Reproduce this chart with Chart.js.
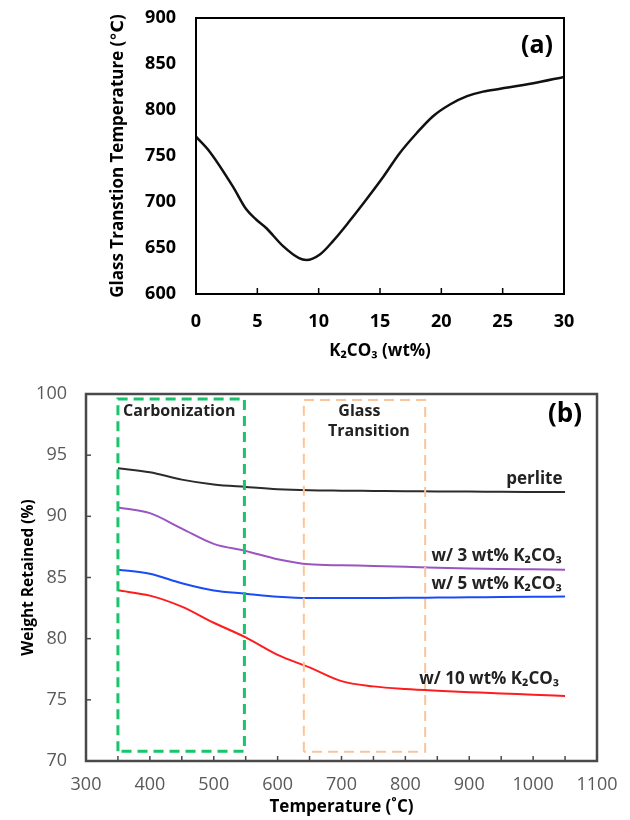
<!DOCTYPE html>
<html>
<head>
<meta charset="utf-8">
<script src="https://cdn.jsdelivr.net/npm/chart.js@4.4.0/dist/chart.umd.min.js"></script>
<style>
    html, body { margin: 0; padding: 0; background: #fff; }
    .wrap { position: absolute; left: 0; width: 630px; }
    #wrapA { top: 0; height: 370px; }
    #wrapB { top: 370px; height: 450px; }
</style>
</head>
<body>
<div class="wrap" id="wrapA"><canvas id="chartA"></canvas></div>
<div class="wrap" id="wrapB"><canvas id="chartB"></canvas></div>
<script>
// ---- (a) ガラス転移温度 vs K2CO3 ----
const k2co3Wt = [0, 1.1, 3.0, 4.1, 4.9, 5.7, 7.1, 8.4, 9.0, 10.1, 11.2, 12.5, 13.9, 15.3, 16.6, 18.0, 19.3, 20.7, 22.1, 23.4, 24.8, 27.5, 30];
const glassTemp = [771, 755, 717, 692, 681, 672, 652, 639, 637, 643, 658, 679, 703, 728, 753, 775, 793, 806, 815, 820, 823, 829, 836];

// ---- (b) 重量保持率 vs 温度 ----
const temperature = [350, 400, 450, 500, 550, 600, 650, 700, 750, 800, 850, 900, 950, 1000, 1050];
const perlite   = [93.94, 93.6, 93.0, 92.6, 92.4, 92.22, 92.13, 92.1, 92.08, 92.06, 92.03, 92.02, 92.0, 91.99, 91.98];
const wt3       = [90.73, 90.26, 89.0, 87.75, 87.17, 86.5, 86.08, 86.0, 85.95, 85.88, 85.8, 85.74, 85.7, 85.67, 85.64];
const wt5       = [85.64, 85.31, 84.53, 83.94, 83.68, 83.43, 83.32, 83.32, 83.33, 83.34, 83.36, 83.38, 83.4, 83.42, 83.44];
const wt10      = [83.95, 83.52, 82.62, 81.3, 80.1, 78.67, 77.65, 76.53, 76.1, 75.88, 75.74, 75.63, 75.52, 75.42, 75.31];

// 領域の枠 [xMin, xMax, yMin, yMax]
const carbonizationBox = [350, 548, 70.8, 99.6];
const glassBox = [641, 831, 70.75, 99.5];

// 注記
const curveLabels = ['perlite', 'w/ 3 wt% K₂CO₃', 'w/ 5 wt% K₂CO₃', 'w/ 10 wt% K₂CO₃'];
const curveLabelX = [1046, 1045, 1045, 1041];
const curveLabelY = [93.04, 86.73, 84.42, 76.67];
const regionLabels = ['Carbonization', 'Glass', 'Transition'];
const regionLabelX = [446, 728, 743];
const regionLabelY = [98.56, 98.6, 96.9];

const FONT = '"Open Sans", "DejaVu Sans", sans-serif';

// 枠線（四辺）
const framePlugin = {
    id: 'frame',
    afterDatasetsDraw(chart, args, opts) {
        const a = chart.chartArea, ctx = chart.ctx;
        ctx.save();
        ctx.strokeStyle = opts.color;
        ctx.lineWidth = opts.width;
        ctx.strokeRect(a.left, a.top, a.right - a.left, a.bottom - a.top);
        ctx.restore();
    }
};

// 内向きの目盛り
const innerTicksPlugin = {
    id: 'innerTicks',
    afterDatasetsDraw(chart, args, opts) {
        const ctx = chart.ctx, a = chart.chartArea;
        ctx.save();
        ctx.strokeStyle = opts.color;
        ctx.lineWidth = 1.5;
        (opts.axes || []).forEach(function(id) {
            const s = chart.scales[id];
            s.ticks.forEach(function(t) {
                const p = s.getPixelForValue(t.value);
                ctx.beginPath();
                if (s.isHorizontal()) {
                    ctx.moveTo(p, a.bottom);
                    ctx.lineTo(p, a.bottom - opts.length);
                } else {
                    ctx.moveTo(a.left, p);
                    ctx.lineTo(a.left + opts.length, p);
                }
                ctx.stroke();
            });
        });
        ctx.restore();
    }
};

// テキスト注記
const textPlugin = {
    id: 'texts',
    afterDatasetsDraw(chart, args, opts) {
        const ctx = chart.ctx;
        const xs = chart.scales.x, ys = chart.scales.y;
        ctx.save();
        ctx.textBaseline = 'middle';
        (opts.items || []).forEach(function(it) {
            ctx.font = it.font;
            ctx.fillStyle = it.color;
            ctx.textAlign = it.align;
            ctx.fillText(it.text, xs.getPixelForValue(it.x), ys.getPixelForValue(it.y));
        });
        ctx.restore();
    }
};

// 軸の大きさを固定
function fixX(h) {
    return function(s) { s.height = h; s.paddingLeft = 0; s.paddingRight = 0; };
}
function fixY(w) {
    return function(s) { s.width = w; s.paddingTop = 0; s.paddingBottom = 0; };
}

// ---- チャート (a) ----
new Chart(document.getElementById('chartA'), {
    type: 'line',
    data: {
        datasets: [{
            data: k2co3Wt.map(function(x, i) { return { x: x, y: glassTemp[i] }; }),
            borderColor: '#111',
            borderWidth: 2.5,
            pointRadius: 0,
            cubicInterpolationMode: 'monotone',
            fill: false
        }]
    },
    options: {
        responsive: true,
        maintainAspectRatio: false,
        animation: false,
        layout: { padding: { left: 108, top: 18, right: 66, bottom: 9 } },
        plugins: {
            legend: { display: false },
            tooltip: { enabled: false },
            frame: { color: '#000', width: 2 },
            innerTicks: { axes: ['x'], length: 6, color: '#000' },
            texts: { items: [{ text: '(a)', x: 27.8, y: 870, font: 'bold 25px ' + FONT, color: '#000', align: 'center' }] }
        },
        scales: {
            x: {
                type: 'linear', min: 0, max: 30,
                grid: { display: false, drawTicks: false },
                border: { display: false },
                ticks: { stepSize: 5, padding: 17, maxRotation: 0, color: '#000', font: { family: FONT, size: 18, weight: 'bold' } },
                title: { display: true, text: 'K₂CO₃ (wt%)', color: '#000', padding: 0, font: { family: FONT, size: 17, weight: 'bold' } },
                afterFit: fixX(67)
            },
            y: {
                type: 'linear', min: 600, max: 900,
                grid: { display: false, drawTicks: false },
                border: { display: false },
                ticks: { stepSize: 50, padding: 20, color: '#000', font: { family: FONT, size: 18, weight: 'bold' } },
                title: { display: true, text: 'Glass Transtion Temperature (℃)', color: '#000', padding: 0, font: { family: FONT, size: 17, weight: 'bold' } },
                afterFit: fixY(88)
            }
        }
    },
    plugins: [framePlugin, innerTicksPlugin, textPlugin]
});

// ---- チャート (b) ----
function toPoints(ys) {
    return temperature.map(function(t, i) { return { x: t, y: ys[i] }; });
}
function boxPoints(b) {
    return [{ x: b[0], y: b[2] }, { x: b[0], y: b[3] }, { x: b[1], y: b[3] }, { x: b[1], y: b[2] }, { x: b[0], y: b[2] }];
}
function curve(ys, color) {
    return { data: toPoints(ys), borderColor: color, borderWidth: 2, pointRadius: 0, cubicInterpolationMode: 'monotone', fill: false };
}
function dashedBox(b, color, width) {
    return { data: boxPoints(b), borderColor: color, borderWidth: width, borderDash: [10, 6], pointRadius: 0, tension: 0, fill: false };
}

const labelItems = curveLabels.map(function(t, i) {
    return { text: t, x: curveLabelX[i], y: curveLabelY[i], font: 'bold 17px ' + FONT, color: '#222', align: 'right' };
}).concat(regionLabels.map(function(t, i) {
    return { text: t, x: regionLabelX[i], y: regionLabelY[i], font: 'bold 16px ' + FONT, color: '#222', align: 'center' };
})).concat([{ text: '(b)', x: 1050, y: 98.29, font: 'bold 26px ' + FONT, color: '#000', align: 'center' }]);

new Chart(document.getElementById('chartB'), {
    type: 'line',
    data: {
        datasets: [
            dashedBox(carbonizationBox, '#19c46c', 3),
            dashedBox(glassBox, '#fbc49a', 2),
            curve(perlite, '#2b2b2b'),
            curve(wt3, '#9a55c0'),
            curve(wt5, '#1a4cf5'),
            curve(wt10, '#ff1c1c')
        ]
    },
    options: {
        responsive: true,
        maintainAspectRatio: false,
        animation: false,
        layout: { padding: { left: 19, top: 24, right: 33, bottom: 3 } },
        plugins: {
            legend: { display: false },
            tooltip: { enabled: false },
            frame: { color: '#4a4a4a', width: 2.5 },
            innerTicks: { axes: ['x', 'y'], length: 5, color: '#4a4a4a' },
            texts: { items: labelItems }
        },
        scales: {
            x: {
                type: 'linear', min: 300, max: 1100,
                grid: { display: false, drawTicks: false },
                border: { display: false },
                ticks: {
                    stepSize: 50, autoSkip: false, padding: 13, maxRotation: 0, minRotation: 0, color: '#595959',
                    font: { family: FONT, size: 18 },
                    callback: function(v) { return v % 100 === 0 ? v : ''; }
                },
                title: { display: true, text: 'Temperature (˚C)', color: '#000', padding: 0, font: { family: FONT, size: 17, weight: 'bold' } },
                afterFit: fixX(56)
            },
            y: {
                type: 'linear', min: 70, max: 100,
                grid: { display: false, drawTicks: false },
                border: { display: false },
                ticks: { stepSize: 5, padding: 19, color: '#595959', font: { family: FONT, size: 18 } },
                title: { display: true, text: 'Weight Retained (%)', color: '#000', padding: 0, font: { family: FONT, size: 15.5, weight: 'bold' } },
                afterFit: fixY(67)
            }
        }
    },
    plugins: [framePlugin, innerTicksPlugin, textPlugin]
});
</script>
</body>
</html>
